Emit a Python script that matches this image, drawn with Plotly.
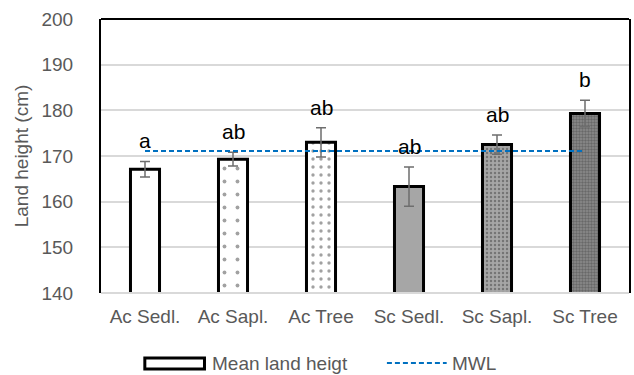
import plotly.graph_objects as go

categories = ["Ac Sedl.", "Ac Sapl.", "Ac Tree", "Sc Sedl.", "Sc Sapl.", "Sc Tree"]
mean_height = [167.1, 169.3, 173.0, 163.3, 172.5, 179.3]
std_err = [1.7, 1.5, 3.2, 4.3, 2.1, 2.9]
sig_letters = ["a", "ab", "ab", "ab", "ab", "b"]
mwl_value = 171.1
y_ticks = [140, 150, 160, 170, 180, 190, 200]

GRAY_TXT = "#595959"
FONT = "Liberation Sans, Arial, sans-serif"
DASH = "5px,3px"

fig = go.Figure()

fig.add_trace(go.Bar(
    x=categories,
    y=mean_height,
    base=0,
    width=0.33,
    name="Mean land heigt",
    showlegend=False,
    marker=dict(
        color=["white", "white", "white", "#a6a6a6", "#a6a6a6", "#8c8c8c"],
        line=dict(color="black", width=3),
        pattern=dict(
            shape=["", ".", ".", "", ".", "."],
            fgcolor=["black", "black", "black", "black", "white", "black"],
            size=[8, 13, 8, 8, 4, 3],
            solidity=[0.1, 0.07, 0.14, 0.1, 0.3, 0.5],
            fillmode="overlay",
        ),
    ),
    error_y=dict(type="data", array=std_err, visible=True,
                 color="#6e6e6e", thickness=1.5, width=5),
))

fig.add_trace(go.Scatter(
    x=categories,
    y=[mwl_value] * len(categories),
    mode="lines",
    name="MWL",
    showlegend=False,
    line=dict(color="#0070c0", width=2, dash=DASH),
))

for c, m, e, t in zip(categories, mean_height, std_err, sig_letters):
    fig.add_annotation(x=c, y=m + e, text=t, showarrow=False,
                       yanchor="bottom", yshift=7,
                       font=dict(size=21, color="black", family=FONT))

# border lines
fig.add_shape(type="line", xref="paper", yref="paper", x0=0, x1=1, y0=1, y1=1,
              line=dict(color="black", width=2))
fig.add_shape(type="line", xref="paper", yref="paper", x0=0, x1=1, y0=0, y1=0,
              line=dict(color="#d9d9d9", width=2))

# custom legend
fig.add_shape(type="rect", xref="paper", yref="paper",
              x0=0.083, x1=0.196, y0=-0.277, y1=-0.237,
              line=dict(color="black", width=3), fillcolor="white")
fig.add_annotation(xref="paper", yref="paper", x=0.207, y=-0.2555,
                   text="Mean land heigt", showarrow=False, xanchor="left",
                   yanchor="middle", font=dict(size=19, color=GRAY_TXT, family=FONT))
fig.add_shape(type="line", xref="paper", yref="paper",
              x0=0.5415, x1=0.6547, y0=-0.2555, y1=-0.2555,
              line=dict(color="#0070c0", width=2, dash=DASH))
fig.add_annotation(xref="paper", yref="paper", x=0.661, y=-0.2555,
                   text="MWL", showarrow=False, xanchor="left",
                   yanchor="middle", font=dict(size=19, color=GRAY_TXT, family=FONT))

fig.update_layout(
    width=634, height=375,
    margin=dict(l=101, r=3, t=19, b=82),
    paper_bgcolor="white", plot_bgcolor="white",
    font=dict(family=FONT, size=19, color=GRAY_TXT),
)
fig.update_xaxes(showgrid=False, showline=False, zeroline=False,
                 ticks="outside", ticklen=6, tickcolor="rgba(0,0,0,0)",
                 tickfont=dict(size=19, color=GRAY_TXT))
fig.update_yaxes(range=[140, 200], tickvals=y_ticks,
                 showgrid=True, gridcolor="#d9d9d9", gridwidth=1.5,
                 showline=True, linecolor="black", linewidth=2, mirror=True,
                 zeroline=False,
                 ticks="outside", ticklen=22, tickcolor="rgba(0,0,0,0)",
                 tickfont=dict(size=19, color=GRAY_TXT),
                 title=dict(text="Land height (cm)", standoff=8,
                            font=dict(size=19, color=GRAY_TXT)))

fig.write_html("out.html")
